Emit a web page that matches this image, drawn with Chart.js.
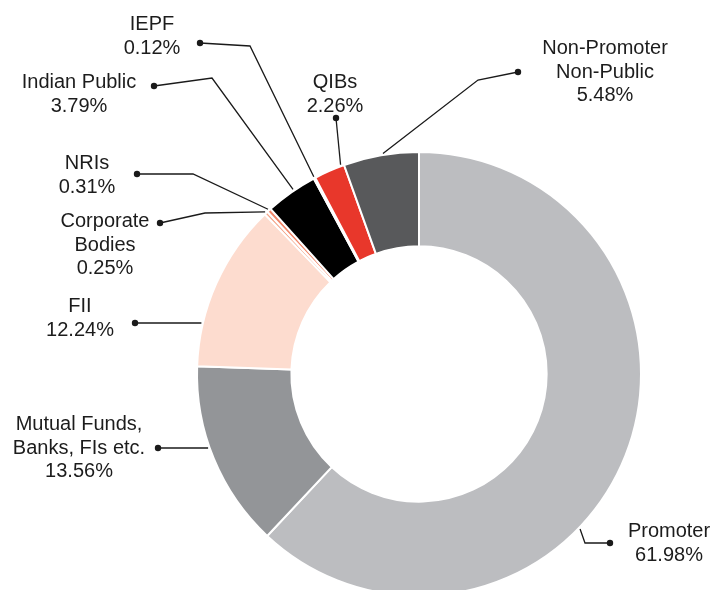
<!DOCTYPE html>
<html>
<head>
<meta charset="utf-8">
<script src="https://cdn.jsdelivr.net/npm/chart.js@4/dist/chart.umd.min.js"></script>
<style>
  html, body { margin: 0; padding: 0; background: #ffffff; overflow: hidden; }
  canvas { display: block; }
</style>
</head>
<body>
<canvas id="c" width="713" height="600"></canvas>
<script>
// ---- Data ----
const categories = ['Promoter', 'Mutual Funds, Banks, FIs etc.', 'FII', 'Corporate Bodies', 'NRIs', 'Indian Public', 'IEPF', 'QIBs', 'Non-Promoter Non-Public'];
const shareValues = [61.98, 13.56, 12.24, 0.25, 0.31, 3.79, 0.12, 2.26, 5.48];
const labelLines = [['Promoter'], ['Mutual Funds,', 'Banks, FIs etc.'], ['FII'], ['Corporate', 'Bodies'], ['NRIs'], ['Indian Public'], ['IEPF'], ['QIBs'], ['Non-Promoter', 'Non-Public']];
const sliceColors = ['#bcbdc0', '#939598', '#fddccf', '#f4a487', '#f1876a', '#000000', '#f9c7b5', '#e8372b', '#58595b'];

// ---- Label layout (text anchor, dot, optional elbow, position along slice) ----
const labelLayout = [
  { x: 669, y: 537, dot: [610, 543], elbow: [585, 543], frac: 0.60 },
  { x: 79,  y: 430, dot: [158, 448], horizontal: true },
  { x: 80,  y: 312, dot: [135, 323], horizontal: true },
  { x: 105, y: 227, dot: [160, 223], elbow: [205, 213], frac: 0.5 },
  { x: 87,  y: 169, dot: [137, 174], elbow: [193, 174], frac: 0.5 },
  { x: 79,  y: 88,  dot: [154, 86],  elbow: [212, 78],  frac: 0.56 },
  { x: 152, y: 30,  dot: [200, 43],  elbow: [250, 46],  frac: 0.5 },
  { x: 335, y: 88,  dot: [336, 118], elbow: null,       frac: 0.9 },
  { x: 605, y: 54,  dot: [518, 72],  elbow: [478, 80],  frac: 0.53 }
];

const FONT = '20px "Liberation Sans", Arial, sans-serif';
const LINE_H = 23.5;
const INK = '#1a1a1a';

const leaderPlugin = {
  id: 'leaders',
  afterDraw(chart) {
    const ctx = chart.ctx;
    const meta = chart.getDatasetMeta(0);
    ctx.save();
    meta.data.forEach((arc, i) => {
      const L = labelLayout[i];
      const p = arc.getProps(['x', 'y', 'startAngle', 'endAngle', 'outerRadius'], true);
      const r = p.outerRadius + 1.5;
      let ex, ey;
      if (L.horizontal) {
        const dy = L.dot[1] - p.y;
        ey = L.dot[1];
        ex = p.x - Math.sqrt(Math.max(r * r - dy * dy, 0));
      } else {
        const a = p.startAngle + (p.endAngle - p.startAngle) * L.frac;
        ex = p.x + r * Math.cos(a);
        ey = p.y + r * Math.sin(a);
      }
      ctx.strokeStyle = INK;
      ctx.lineWidth = 1.3;
      ctx.beginPath();
      ctx.moveTo(L.dot[0], L.dot[1]);
      if (L.elbow) ctx.lineTo(L.elbow[0], L.elbow[1]);
      ctx.lineTo(ex, ey);
      ctx.stroke();
      ctx.fillStyle = INK;
      ctx.beginPath();
      ctx.arc(L.dot[0], L.dot[1], 3.2, 0, Math.PI * 2);
      ctx.fill();
      // text
      ctx.font = FONT;
      ctx.textAlign = 'center';
      ctx.textBaseline = 'alphabetic';
      ctx.fillStyle = '#1c1c1c';
      const lines = labelLines[i].concat([shareValues[i].toFixed(2) + '%']);
      lines.forEach((t, k) => ctx.fillText(t, L.x, L.y + k * LINE_H));
    });
    ctx.restore();
  }
};

new Chart(document.getElementById('c'), {
  type: 'doughnut',
  data: {
    labels: categories,
    datasets: [{
      data: shareValues,
      backgroundColor: sliceColors,
      borderColor: '#ffffff',
      borderWidth: 2
    }]
  },
  options: {
    responsive: false,
    animation: false,
    events: [],
    cutout: '57.5%',
    layout: { padding: { top: 151, left: 196, right: 71, bottom: 3 } },
    plugins: {
      legend: { display: false },
      tooltip: { enabled: false }
    }
  },
  plugins: [leaderPlugin]
});
</script>
</body>
</html>
